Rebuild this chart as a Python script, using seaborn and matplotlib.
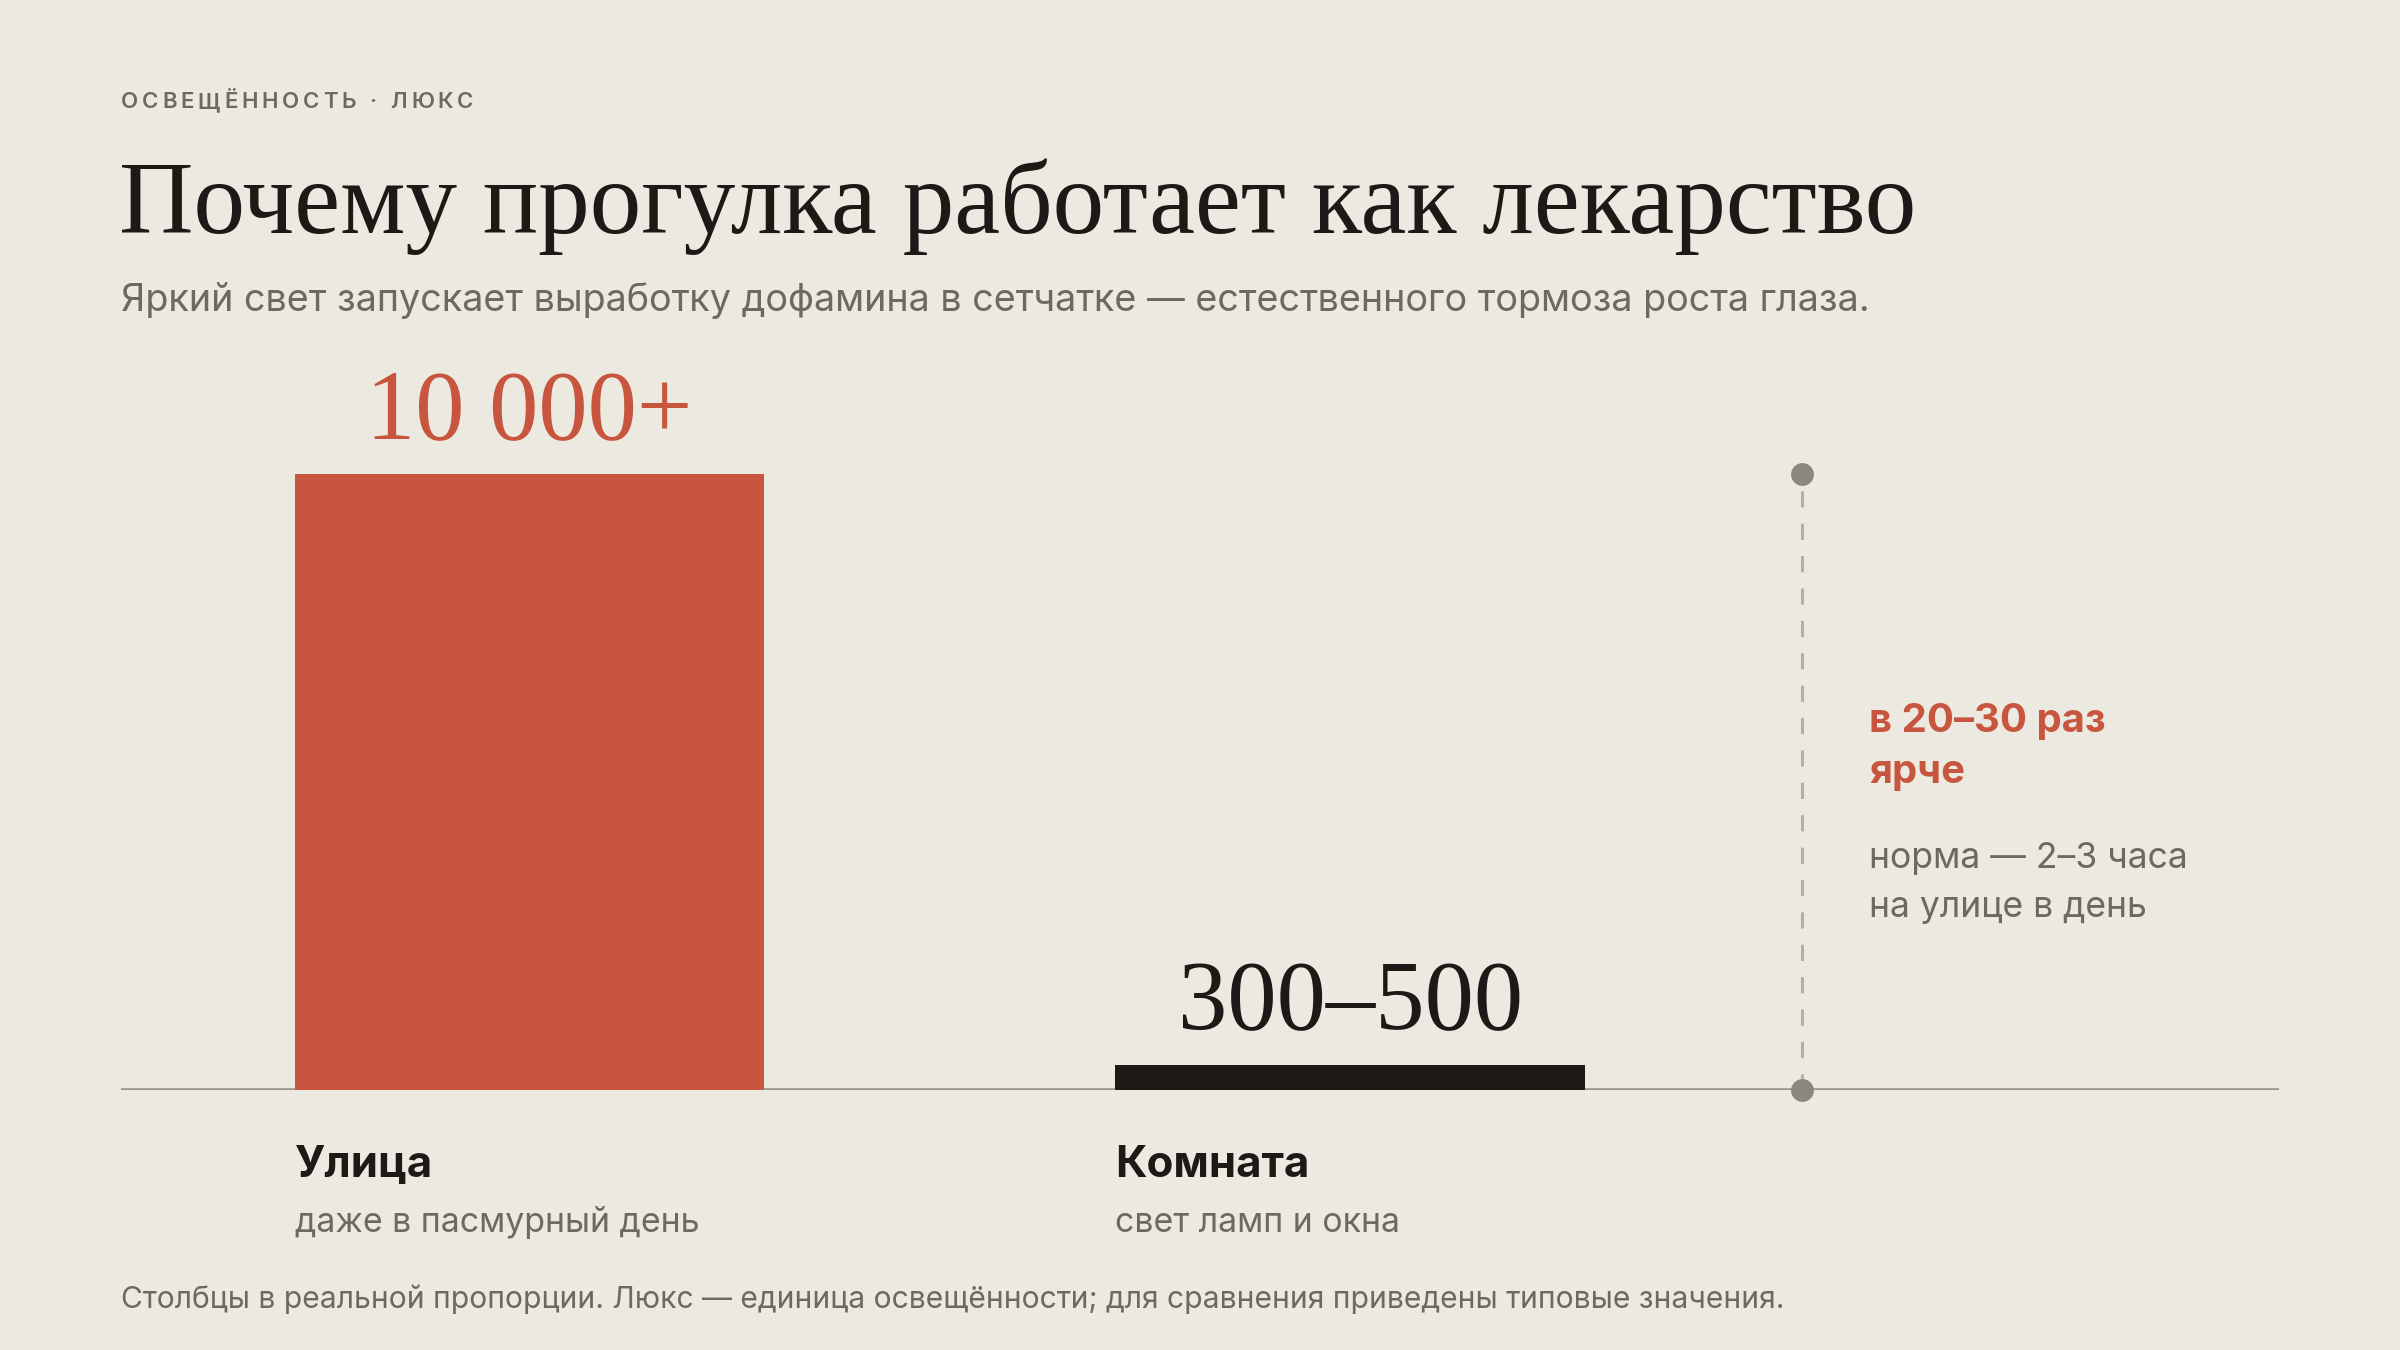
import numpy as np
import pandas as pd
import seaborn as sns
import matplotlib
matplotlib.use("Agg")
import matplotlib.pyplot as plt

# ---- data ----
categories = ["Улица", "Комната"]
values = [10000, 400]
value_labels = ["10 000+", "300–500"]
sublabels = ["даже в пасмурный день", "свет ламп и окна"]

overline = "ОСВЕЩЁННОСТЬ · ЛЮКС"
title = "Почему прогулка работает как лекарство"
subtitle = "Яркий свет запускает выработку дофамина в сетчатке — естественного тормоза роста глаза."
note_lines = ["в 20–30 раз", "ярче"]
note_sub = ["норма — 2–3 часа", "на улице в день"]
footnote = "Столбцы в реальной пропорции. Люкс — единица освещённости; для сравнения приведены типовые значения."

# ---- style ----
BG = "#ECE9E1"
RED = "#C8553D"
DARK = "#1C1917"
GRAY = "#6E695F"
LINE = "#9A978A"
DOT = "#8A877C"
DASH = "#B3AFA5"
SANS = ["Inter", "DejaVu Sans"]
SERIF = ["Liberation Serif", "DejaVu Serif"]
bar_colors = [RED, DARK]

sns.set_theme(style="white")
plt.rcParams["font.family"] = SANS

W, H = 2400, 1350
fig = plt.figure(figsize=(24, 13.5), dpi=100, facecolor=BG)

def fx(x):
    return x / W

def fy(y):
    return 1 - y / H

ax = fig.add_axes([fx(121), fy(1090), (2279 - 121) / W, (1090 - 474) / H])
ax.set_facecolor("none")

df = pd.DataFrame({"cat": categories, "lux": values})
bw = 0.572
sns.barplot(data=df, x="cat", y="lux", hue="cat", palette=bar_colors,
            width=bw, legend=False, ax=ax, saturation=1, linewidth=0, zorder=2)
ax.set_xlim(-0.498, 2.132)
ax.set_ylim(0, 10000)
ax.axis("off")

# baseline
ax.axhline(0, color=LINE, lw=2.6, zorder=1)

# dashed comparison line with dots
xd = 1.551
ax.plot([xd, xd], [0, values[0]], color=DASH, lw=2.2, ls=(0, (5.3, 5.3)),
        zorder=1, clip_on=False)
ax.scatter([xd, xd], [0, values[0]], s=270, color=DOT, zorder=3,
           clip_on=False, linewidths=0)

# value labels
for i, (v, lab, c) in enumerate(zip(values, value_labels, bar_colors)):
    ax.annotate(lab, xy=(i, v), xytext=(0, 36 * 0.72), textcoords="offset points",
                ha="center", va="baseline", fontsize=71, family=SERIF,
                color=c, annotation_clip=False)

# category labels
for i, (cat, sub) in enumerate(zip(categories, sublabels)):
    ax.annotate(cat, xy=(i - bw / 2, 0), xytext=(0, -(1177 - 1090) * 0.72),
                textcoords="offset points", ha="left", va="baseline",
                fontsize=31.5, weight="bold", color=DARK, annotation_clip=False)
    ax.annotate(sub, xy=(i - bw / 2, 0), xytext=(0, -(1232 - 1090) * 0.72),
                textcoords="offset points", ha="left", va="baseline",
                fontsize=24.4, color=GRAY, annotation_clip=False)

# header: letter-spaced overline
r = fig.canvas.get_renderer()
x = 121
for ch in overline:
    t = fig.text(fx(x), fy(108), ch, fontsize=16, weight="semibold",
                 color=GRAY, va="baseline", ha="left")
    if ch == " ":
        w = 16 / 0.72 * 0.28
    else:
        w = t.get_window_extent(renderer=r).width
    x += w + 3.8

fig.text(fx(119), fy(233), title, fontsize=74.3, family=SERIF, color=DARK,
         va="baseline", ha="left")
fig.text(fx(121), fy(311), subtitle, fontsize=27.2, color=GRAY,
         va="baseline", ha="left")

# annotation to the right
fig.text(fx(1869), fy(732), note_lines[0], fontsize=28.8, weight="bold",
         color=RED, va="baseline", ha="left")
fig.text(fx(1869), fy(783), note_lines[1], fontsize=28.8, weight="bold",
         color=RED, va="baseline", ha="left")
fig.text(fx(1869), fy(868), note_sub[0], fontsize=25.6, color=GRAY,
         va="baseline", ha="left")
fig.text(fx(1869), fy(917), note_sub[1], fontsize=25.6, color=GRAY,
         va="baseline", ha="left")

# footnote
fig.text(fx(121), fy(1308), footnote, fontsize=21.6, color=GRAY,
         va="baseline", ha="left")

fig.savefig("out.png", dpi=100, facecolor=BG)
